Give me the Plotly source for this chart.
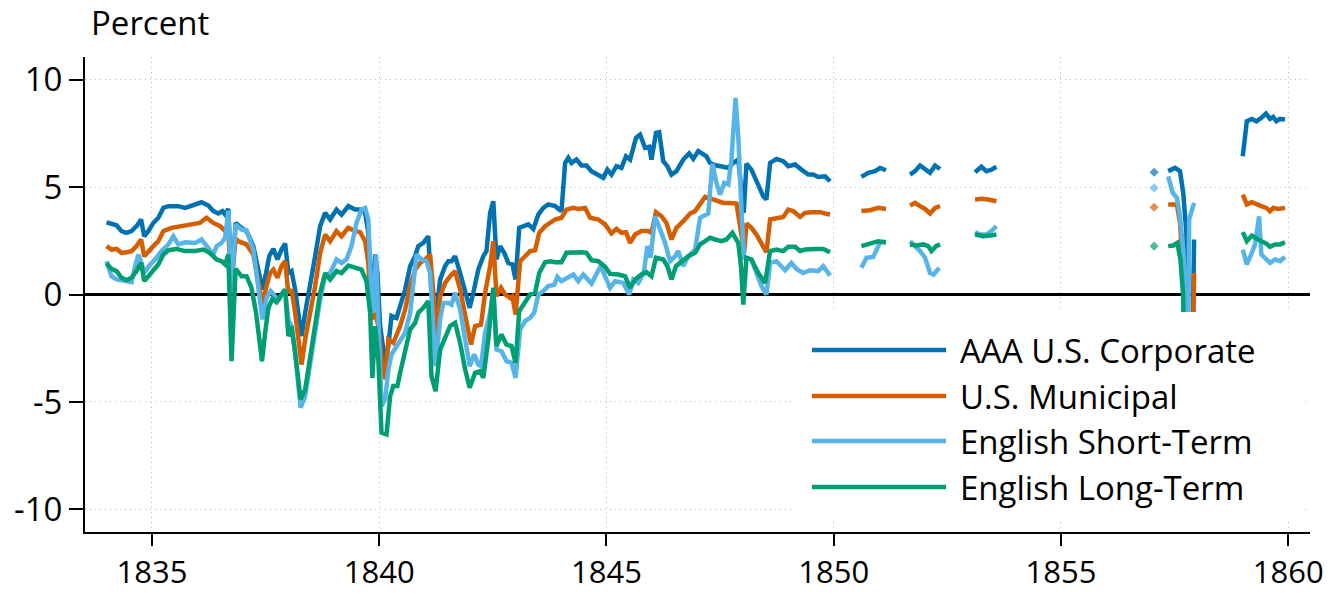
import plotly.graph_objects as go

# ---- data (decimal year, percent); (None, None) marks a gap ----
corporate = [
    (1834.00, 3.36), (1834.22, 3.22), (1834.33, 2.95), (1834.44, 2.87), (1834.55, 2.95), (1834.66, 3.18),
    (1834.76, 3.49), (1834.83, 2.71), (1834.92, 2.95), (1835.03, 3.33), (1835.14, 3.57), (1835.25, 4.03),
    (1835.36, 4.11), (1835.58, 4.11), (1835.73, 4.03), (1835.95, 4.19), (1836.09, 4.29), (1836.24, 4.14),
    (1836.35, 3.88), (1836.46, 3.77), (1836.55, 3.88), (1836.61, 3.72), (1836.68, 3.98), (1836.75, 0.30),
    (1836.84, 3.33), (1836.97, 3.10), (1837.08, 2.95), (1837.23, 2.25), (1837.34, 1.16), (1837.43, 0.23),
    (1837.51, 1.00), (1837.58, 1.78), (1837.67, 2.12), (1837.76, 1.63), (1837.85, 2.09), (1837.93, 2.37),
    (1838.00, 1.00), (1838.07, 1.09), (1838.15, 0.23), (1838.22, -0.85), (1838.29, -1.94), (1838.37, -0.85),
    (1838.48, 0.39), (1838.59, 1.78), (1838.70, 3.18), (1838.81, 3.80), (1838.92, 3.49), (1839.06, 3.95),
    (1839.17, 3.72), (1839.32, 4.11), (1839.47, 3.95), (1839.58, 3.95), (1839.69, 3.80), (1839.76, 2.87),
    (1839.83, -0.54), (1839.91, 1.86), (1839.96, 1.00), (1840.02, -1.47), (1840.13, -3.18), (1840.20, -2.40),
    (1840.27, -1.00), (1840.38, -1.09), (1840.46, -0.54), (1840.57, 0.23), (1840.68, 1.32), (1840.79, 1.78),
    (1840.86, 2.25), (1840.97, 2.40), (1841.08, 2.71), (1841.15, 0.08), (1841.23, -1.32), (1841.34, 0.70),
    (1841.45, 1.32), (1841.52, 1.55), (1841.59, 1.55), (1841.67, 1.78), (1841.78, 1.00), (1841.89, 0.08),
    (1841.99, -0.62), (1842.07, 0.08), (1842.18, 1.16), (1842.29, 1.78), (1842.36, 2.02), (1842.44, 3.80),
    (1842.51, 4.34), (1842.58, 1.63), (1842.66, 2.25), (1842.75, 1.94), (1842.84, 1.47), (1842.93, 1.40),
    (1843.00, 0.70), (1843.08, 3.10), (1843.17, 3.18), (1843.28, 3.26), (1843.39, 3.05), (1843.50, 3.72),
    (1843.61, 4.03), (1843.72, 4.19), (1843.87, 4.11), (1844.01, 3.88), (1844.09, 6.12), (1844.16, 6.36),
    (1844.23, 6.12), (1844.34, 6.28), (1844.45, 6.00), (1844.56, 6.00), (1844.67, 5.74), (1844.78, 5.61),
    (1844.93, 5.43), (1845.02, 5.81), (1845.11, 5.58), (1845.22, 5.97), (1845.33, 5.89), (1845.43, 6.43),
    (1845.52, 6.28), (1845.65, 7.29), (1845.74, 7.44), (1845.85, 6.82), (1845.94, 6.87), (1845.99, 6.28),
    (1846.09, 7.52), (1846.16, 7.55), (1846.25, 6.20), (1846.34, 5.97), (1846.43, 5.58), (1846.54, 5.74),
    (1846.69, 6.28), (1846.82, 6.56), (1846.91, 6.31), (1847.02, 6.67), (1847.12, 6.51), (1847.20, 6.43),
    (1847.28, 6.12), (1847.42, 6.00), (1847.57, 5.94), (1847.68, 5.89), (1847.79, 6.12), (1847.90, 6.28),
    (1848.02, 3.80), (1848.08, 6.09), (1848.19, 5.81), (1848.34, 5.04), (1848.45, 4.57), (1848.52, 4.42),
    (1848.60, 6.12), (1848.74, 6.31), (1848.89, 6.20), (1849.00, 5.97), (1849.15, 6.05), (1849.29, 5.81),
    (1849.44, 5.58), (1849.55, 5.58), (1849.66, 5.47), (1849.81, 5.50), (1849.92, 5.27),
    (None, None),
    (1850.61, 5.47), (1850.76, 5.66), (1850.91, 5.74), (1851.02, 5.89), (1851.15, 5.78),
    (None, None),
    (1851.68, 5.58), (1851.79, 5.74), (1851.90, 6.00), (1852.01, 5.81), (1852.12, 5.66), (1852.23, 6.00),
    (1852.34, 5.84),
    (None, None),
    (1853.11, 5.69), (1853.25, 5.94), (1853.36, 5.74), (1853.47, 5.81), (1853.58, 5.94),
    (None, None),
    (1857.05, 5.69),
    (None, None),
    (1857.36, 5.74), (1857.51, 5.89), (1857.62, 5.74), (1857.69, 4.73), (1857.76, 2.87), (1857.80, -9.0),
    (1857.87, -6.0), (1857.93, 2.56),
    (None, None),
    (1859.00, 6.43), (1859.09, 8.06), (1859.20, 8.17), (1859.30, 8.06), (1859.41, 8.22), (1859.51, 8.42),
    (1859.60, 8.17), (1859.67, 8.26), (1859.74, 8.06), (1859.82, 8.17), (1859.93, 8.14),
]

municipal = [
    (1834.00, 2.25), (1834.11, 2.09), (1834.22, 2.12), (1834.33, 1.94), (1834.44, 1.97), (1834.55, 2.02),
    (1834.66, 2.25), (1834.76, 2.56), (1834.83, 1.78), (1834.92, 2.02), (1835.03, 2.25), (1835.14, 2.48),
    (1835.25, 2.95), (1835.43, 3.10), (1835.65, 3.18), (1835.87, 3.26), (1836.05, 3.33), (1836.20, 3.57),
    (1836.35, 3.33), (1836.50, 3.18), (1836.61, 2.95), (1836.68, 2.80), (1836.75, 0.50), (1836.84, 2.60),
    (1836.90, 2.48), (1837.08, 2.33), (1837.23, 1.86), (1837.34, 0.70), (1837.43, -0.47), (1837.52, 0.39),
    (1837.60, 1.00), (1837.67, 1.16), (1837.76, 0.78), (1837.85, 1.32), (1837.93, 1.55), (1838.00, 0.08),
    (1838.07, 0.23), (1838.15, -0.85), (1838.22, -1.94), (1838.29, -3.26), (1838.37, -2.09), (1838.48, -0.85),
    (1838.59, 0.39), (1838.70, 1.94), (1838.81, 2.79), (1838.92, 2.48), (1839.06, 2.95), (1839.17, 2.71),
    (1839.32, 3.10), (1839.47, 2.95), (1839.58, 2.90), (1839.69, 2.48), (1839.76, 1.47), (1839.83, -1.16),
    (1839.91, -0.85), (1839.98, -1.47), (1840.05, -3.02), (1840.13, -3.95), (1840.20, -2.09), (1840.31, -2.25),
    (1840.46, -1.47), (1840.57, -0.70), (1840.68, 0.39), (1840.79, 1.16), (1840.90, 1.47), (1841.01, 1.63),
    (1841.12, 1.86), (1841.19, 0.08), (1841.25, -2.09), (1841.34, -0.08), (1841.45, 0.54), (1841.56, 0.85),
    (1841.67, 1.09), (1841.78, 0.23), (1841.89, -0.85), (1842.02, -2.33), (1842.11, -1.47), (1842.24, -1.40),
    (1842.33, 0.08), (1842.44, 1.32), (1842.51, 2.48), (1842.58, -0.08), (1842.68, 0.31), (1842.77, 0.00),
    (1842.88, -0.16), (1842.93, -0.08), (1843.00, -0.93), (1843.10, 1.55), (1843.21, 1.78), (1843.32, 2.02),
    (1843.43, 2.06), (1843.52, 2.87), (1843.65, 3.18), (1843.76, 3.33), (1843.87, 3.49), (1844.01, 3.57),
    (1844.12, 3.95), (1844.27, 4.03), (1844.38, 3.98), (1844.53, 4.03), (1844.64, 3.57), (1844.82, 3.49),
    (1844.97, 3.26), (1845.11, 2.84), (1845.22, 3.05), (1845.33, 2.87), (1845.43, 2.90), (1845.52, 2.40),
    (1845.63, 2.79), (1845.77, 2.95), (1845.92, 2.95), (1845.99, 2.87), (1846.09, 3.83), (1846.21, 3.64),
    (1846.32, 3.33), (1846.43, 2.56), (1846.54, 3.10), (1846.69, 3.41), (1846.84, 3.77), (1846.95, 3.88),
    (1847.06, 4.26), (1847.17, 4.54), (1847.31, 4.45), (1847.46, 4.34), (1847.57, 4.26), (1847.72, 4.26),
    (1847.86, 4.23), (1847.94, 3.18), (1848.03, 1.94), (1848.08, 3.30), (1848.19, 3.10), (1848.30, 2.79),
    (1848.41, 2.33), (1848.52, 1.97), (1848.60, 3.49), (1848.74, 3.57), (1848.89, 3.61), (1849.00, 3.95),
    (1849.11, 3.88), (1849.26, 3.61), (1849.37, 3.80), (1849.51, 3.83), (1849.70, 3.83), (1849.81, 3.77),
    (1849.92, 3.72),
    (None, None),
    (1850.61, 3.88), (1850.80, 3.92), (1850.98, 4.03), (1851.15, 3.98),
    (None, None),
    (1851.68, 4.14), (1851.79, 4.26), (1851.90, 4.11), (1852.01, 3.98), (1852.12, 3.77), (1852.23, 4.03),
    (1852.34, 4.11),
    (None, None),
    (1853.11, 4.42), (1853.25, 4.45), (1853.40, 4.42), (1853.58, 4.34),
    (None, None),
    (1857.05, 4.06),
    (None, None),
    (1857.36, 4.19), (1857.55, 4.19), (1857.62, 3.33), (1857.68, 1.63), (1857.73, -0.23), (1857.78, -9.0),
    (1857.87, -7.0), (1857.93, 1.00),
    (None, None),
    (1859.00, 4.65), (1859.09, 4.19), (1859.20, 4.29), (1859.30, 4.19), (1859.41, 4.11), (1859.52, 4.03),
    (1859.60, 3.88), (1859.67, 4.03), (1859.78, 3.98), (1859.93, 4.03),
]

short_term = [
    (1834.00, 1.55), (1834.11, 0.85), (1834.22, 0.70), (1834.40, 0.62), (1834.55, 0.57), (1834.63, 1.32),
    (1834.70, 1.86), (1834.77, 1.47), (1834.83, 1.00), (1834.96, 1.40), (1835.07, 1.63), (1835.21, 2.02),
    (1835.36, 2.33), (1835.47, 2.71), (1835.58, 2.33), (1835.73, 2.43), (1835.95, 2.40), (1836.09, 2.56),
    (1836.24, 2.17), (1836.35, 1.86), (1836.42, 2.25), (1836.53, 2.40), (1836.61, 2.64), (1836.68, 3.90),
    (1836.75, 0.10), (1836.84, 3.26), (1836.97, 3.02), (1837.08, 2.99), (1837.23, 2.09), (1837.34, 0.39),
    (1837.43, -1.16), (1837.52, -0.16), (1837.61, 0.16), (1837.71, -0.08), (1837.78, -0.31), (1837.85, 0.00),
    (1837.93, 0.23), (1838.00, -1.16), (1838.07, -1.47), (1838.15, -2.71), (1838.22, -4.11), (1838.27, -5.27),
    (1838.37, -4.73), (1838.48, -3.33), (1838.59, -1.78), (1838.70, -0.23), (1838.81, 0.85), (1838.92, 1.00),
    (1839.06, 1.63), (1839.17, 1.47), (1839.28, 1.63), (1839.39, 2.25), (1839.50, 3.33), (1839.61, 3.95),
    (1839.69, 4.03), (1839.76, 3.49), (1839.81, 0.85), (1839.87, -0.85), (1839.93, 1.86), (1839.98, -1.47),
    (1840.05, -5.19), (1840.13, -4.88), (1840.20, -3.49), (1840.27, -2.79), (1840.38, -2.40), (1840.46, -2.17),
    (1840.57, -1.78), (1840.68, -0.85), (1840.75, 0.39), (1840.82, 1.86), (1840.93, 1.63), (1841.04, 1.55),
    (1841.12, 1.00), (1841.19, -1.16), (1841.24, -3.33), (1841.34, -1.16), (1841.41, -0.39), (1841.52, -0.39),
    (1841.59, -0.47), (1841.67, 0.08), (1841.78, -0.70), (1841.89, -2.09), (1841.99, -3.33), (1842.09, -2.79),
    (1842.18, -3.26), (1842.24, -3.33), (1842.33, -1.78), (1842.44, -0.85), (1842.51, 0.23), (1842.58, -2.56),
    (1842.69, -2.64), (1842.80, -3.10), (1842.91, -3.18), (1843.00, -3.88), (1843.10, -1.63), (1843.21, -1.24),
    (1843.32, -1.09), (1843.41, -0.85), (1843.50, 0.00), (1843.61, 0.16), (1843.72, 0.39), (1843.85, 0.45),
    (1843.92, 0.82), (1844.01, 0.62), (1844.12, 0.73), (1844.27, 0.93), (1844.38, 0.62), (1844.49, 0.93),
    (1844.67, 0.51), (1844.78, 0.93), (1844.87, 1.32), (1844.97, 0.85), (1845.08, 0.31), (1845.19, 0.62),
    (1845.37, 0.54), (1845.50, 0.00), (1845.59, 0.70), (1845.70, 0.54), (1845.82, 1.00), (1845.90, 2.25),
    (1845.97, 1.71), (1846.07, 3.64), (1846.18, 3.02), (1846.29, 2.40), (1846.40, 1.55), (1846.51, 1.78),
    (1846.58, 2.02), (1846.69, 1.32), (1846.80, 1.78), (1846.95, 2.09), (1847.06, 3.57), (1847.17, 3.72),
    (1847.24, 3.77), (1847.33, 6.09), (1847.42, 5.19), (1847.50, 4.65), (1847.59, 5.19), (1847.68, 5.12),
    (1847.75, 6.28), (1847.84, 9.15), (1847.90, 7.36), (1847.97, 3.95), (1848.03, 1.63), (1848.08, 1.71),
    (1848.19, 1.63), (1848.30, 1.00), (1848.41, 0.39), (1848.52, 0.00), (1848.60, 1.47), (1848.74, 1.55),
    (1848.93, 1.13), (1849.07, 1.47), (1849.18, 1.19), (1849.33, 1.00), (1849.48, 1.13), (1849.66, 1.09),
    (1849.77, 1.32), (1849.92, 0.88),
    (None, None),
    (1850.61, 1.24), (1850.72, 1.71), (1850.87, 1.75), (1850.94, 2.09), (1851.02, 2.43), (1851.15, 2.43),
    (None, None),
    (1851.68, 2.48), (1851.79, 2.25), (1851.90, 2.02), (1852.01, 1.71), (1852.12, 1.00), (1852.20, 0.93),
    (1852.32, 1.24),
    (None, None),
    (1853.11, 2.90), (1853.22, 2.79), (1853.36, 2.79), (1853.47, 2.95), (1853.58, 3.18),
    (None, None),
    (1857.05, 4.96),
    (None, None),
    (1857.36, 5.50), (1857.46, 4.73), (1857.55, 4.50), (1857.62, 3.64), (1857.69, 2.09), (1857.75, -0.23),
    (1857.78, -9.0), (1857.82, 3.49), (1857.93, 4.26),
    (None, None),
    (1859.00, 2.09), (1859.09, 1.40), (1859.20, 1.94), (1859.27, 2.33), (1859.36, 3.64), (1859.41, 1.86),
    (1859.52, 1.63), (1859.60, 1.47), (1859.71, 1.63), (1859.82, 1.55), (1859.93, 1.75),
]

long_term = [
    (1834.00, 1.44), (1834.11, 1.19), (1834.22, 1.09), (1834.33, 0.78), (1834.44, 0.67), (1834.55, 0.78),
    (1834.66, 1.09), (1834.76, 1.47), (1834.83, 0.62), (1834.92, 0.85), (1835.03, 1.16), (1835.14, 1.40),
    (1835.25, 1.86), (1835.36, 2.06), (1835.54, 2.12), (1835.73, 2.02), (1835.95, 2.02), (1836.13, 2.09),
    (1836.27, 1.94), (1836.42, 1.63), (1836.53, 1.55), (1836.61, 1.40), (1836.68, 1.86), (1836.75, -3.10),
    (1836.84, 1.19), (1836.97, 0.85), (1837.08, 0.85), (1837.19, 0.31), (1837.29, -0.85), (1837.36, -2.25),
    (1837.42, -3.10), (1837.49, -1.78), (1837.56, -0.62), (1837.65, -0.20), (1837.74, -0.36), (1837.85, 0.00),
    (1837.93, 0.23), (1838.00, -1.94), (1838.07, -1.47), (1838.15, -2.71), (1838.22, -3.95), (1838.27, -4.88),
    (1838.37, -4.42), (1838.48, -3.02), (1838.59, -1.32), (1838.70, 0.08), (1838.81, 1.00), (1838.92, 0.70),
    (1839.06, 1.09), (1839.17, 1.00), (1839.32, 1.35), (1839.47, 1.24), (1839.61, 1.16), (1839.72, 0.62),
    (1839.80, -0.85), (1839.85, -3.88), (1839.91, -1.47), (1839.98, -3.02), (1840.05, -6.43), (1840.16, -6.51),
    (1840.24, -4.73), (1840.31, -4.26), (1840.40, -4.26), (1840.46, -3.64), (1840.57, -2.71), (1840.68, -1.63),
    (1840.79, -1.32), (1840.86, -0.85), (1840.97, -0.62), (1841.08, -0.31), (1841.15, -3.80), (1841.24, -4.50),
    (1841.34, -2.56), (1841.45, -2.02), (1841.56, -1.47), (1841.67, -1.32), (1841.78, -2.25), (1841.89, -3.49),
    (1841.99, -4.34), (1842.11, -3.64), (1842.22, -3.57), (1842.29, -3.88), (1842.40, -2.09), (1842.51, 0.31),
    (1842.58, -2.40), (1842.69, -1.86), (1842.80, -2.33), (1842.91, -2.40), (1843.00, -3.18), (1843.08, -0.78),
    (1843.21, -0.31), (1843.32, 0.00), (1843.43, 0.08), (1843.52, 1.00), (1843.65, 1.50), (1843.76, 1.55),
    (1843.87, 1.50), (1844.01, 1.50), (1844.12, 1.94), (1844.27, 1.97), (1844.45, 1.97), (1844.56, 1.94),
    (1844.67, 1.60), (1844.82, 1.55), (1844.97, 1.29), (1845.08, 0.96), (1845.26, 0.93), (1845.41, 0.85),
    (1845.52, 0.31), (1845.63, 0.70), (1845.77, 0.93), (1845.88, 1.04), (1845.99, 0.85), (1846.09, 1.71),
    (1846.25, 1.63), (1846.34, 1.32), (1846.43, 0.70), (1846.53, 1.32), (1846.65, 1.50), (1846.80, 1.78),
    (1846.95, 1.94), (1847.06, 2.33), (1847.17, 2.48), (1847.28, 2.64), (1847.39, 2.56), (1847.53, 2.48),
    (1847.64, 2.56), (1847.77, 2.87), (1847.90, 2.40), (1847.96, 1.32), (1848.01, -0.47), (1848.08, 1.71),
    (1848.19, 1.63), (1848.34, 1.00), (1848.49, 0.54), (1848.60, 2.02), (1848.74, 2.09), (1848.89, 2.02),
    (1849.00, 2.22), (1849.15, 2.22), (1849.26, 2.02), (1849.37, 2.09), (1849.59, 2.12), (1849.77, 2.12),
    (1849.92, 1.97),
    (None, None),
    (1850.61, 2.25), (1850.80, 2.36), (1850.98, 2.48), (1851.15, 2.43),
    (None, None),
    (1851.68, 2.33), (1851.82, 2.28), (1851.97, 2.33), (1852.08, 2.25), (1852.15, 2.02), (1852.25, 2.25),
    (1852.34, 2.33),
    (None, None),
    (1853.11, 2.79), (1853.29, 2.71), (1853.44, 2.74), (1853.58, 2.79),
    (None, None),
    (1857.05, 2.25),
    (None, None),
    (1857.36, 2.25), (1857.47, 2.28), (1857.56, 2.40), (1857.63, 1.63), (1857.69, -0.08), (1857.74, -9.0),
    (None, None),
    (1859.00, 2.90), (1859.09, 2.48), (1859.20, 2.74), (1859.30, 2.59), (1859.41, 2.48), (1859.52, 2.37),
    (1859.60, 2.22), (1859.71, 2.33), (1859.82, 2.33), (1859.93, 2.43),
]

series_names = ["AAA U.S. Corporate", "U.S. Municipal", "English Short-Term", "English Long-Term"]
series_colors = ["#0072B2", "#D55E00", "#56B4E9", "#009E73"]
series_data = [corporate, municipal, short_term, long_term]

x_tickvals = [1835, 1840, 1845, 1850, 1855, 1860]
x_ticktext = ["1835", "1840", "1845", "1850", "1855", "1860"]
y_tickvals = [-10, -5, 0, 5, 10]
y_ticktext = ["-10", "-5", "0", "5", "10"]

FONT = "'Open Sans', 'Noto Sans', sans-serif"
FS = 33

fig = go.Figure()
for name, color, data in zip(series_names, series_colors, series_data):
    xs = [p[0] for p in data]
    ys = [p[1] for p in data]
    sizes = []
    for i in range(len(ys)):
        prev_gap = i == 0 or ys[i - 1] is None
        next_gap = i == len(ys) - 1 or ys[i + 1] is None
        sizes.append(7 if (ys[i] is not None and prev_gap and next_gap) else 0)
    fig.add_trace(go.Scatter(
        x=xs, y=ys, name=name, mode="lines+markers",
        line=dict(color=color, width=4.5),
        marker=dict(size=sizes, color=color, symbol="diamond", line=dict(width=0)),
        showlegend=False, hoverinfo="skip",
    ))

# plot-area geometry in pixels (for the hand-made legend)
W, H = 1331, 594
L, R, T, B = 85, 21, 57, 62
pw, ph = W - L - R, H - T - B

def px(x):
    return (x - L) / pw

def py(y):
    return (H - B - y) / ph

shapes = [dict(type="rect", xref="paper", yref="paper", x0=px(794), x1=px(1301),
               y0=py(521), y1=py(312), fillcolor="white", line=dict(width=0), layer="above")]
annotations = []
legend_rows = [350, 396, 441, 487]
for name, color, yy in zip(series_names, series_colors, legend_rows):
    shapes.append(dict(type="line", xref="paper", yref="paper", x0=px(812), x1=px(946),
                       y0=py(yy), y1=py(yy), line=dict(color=color, width=4.5), layer="above"))
    annotations.append(dict(xref="paper", yref="paper", x=px(958), y=py(yy), text=name,
                            showarrow=False, xanchor="left", yanchor="middle",
                            font=dict(family=FONT, size=FS, color="black")))

annotations.append(dict(xref="paper", yref="paper", x=px(89), y=py(22), text="Percent",
                        showarrow=False, xanchor="left", yanchor="middle",
                        font=dict(family=FONT, size=FS, color="black")))

fig.update_layout(
    width=W, height=H,
    margin=dict(l=L, r=R, t=T, b=B, pad=0, autoexpand=False),
    plot_bgcolor="white", paper_bgcolor="white",
    font=dict(family=FONT, size=FS, color="black"),
    shapes=shapes, annotations=annotations,
    xaxis=dict(range=[1833.526, 1860.48], tickvals=x_tickvals, ticktext=x_ticktext,
               automargin=False, tickfont=dict(size=31),
               showgrid=True, gridcolor="#b5b5b5", gridwidth=1, griddash="1px,4px",
               showline=True, linecolor="black", linewidth=2, mirror=False,
               ticks="outside", ticklen=12, tickwidth=2, tickcolor="black",
               zeroline=False),
    yaxis=dict(range=[-11.05, 11.05], tickvals=y_tickvals, ticktext=y_ticktext,
               automargin=False,
               showgrid=True, gridcolor="#b5b5b5", gridwidth=1, griddash="1px,4px",
               showline=True, linecolor="black", linewidth=2,
               ticks="outside", ticklen=14, tickwidth=2, tickcolor="black",
               zeroline=True, zerolinecolor="black", zerolinewidth=2.5),
)

fig.write_html("out.html")
